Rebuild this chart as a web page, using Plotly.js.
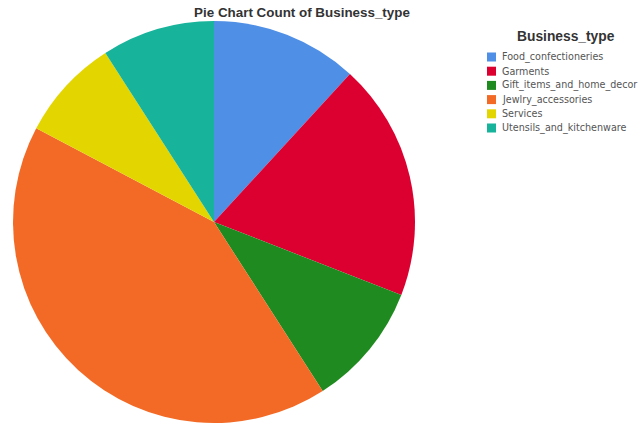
<!DOCTYPE html>
<html>
<head>
<meta charset="utf-8">
<script src="https://cdn.plot.ly/plotly-3.0.1.min.js"></script>
<style>html,body{margin:0;padding:0;background:#fff;}#chart{width:641px;height:425px;}</style>
</head>
<body>
<div id="chart"></div>
<script>
var categories = ["Food_confectioneries", "Garments", "Gift_items_and_home_decor", "Jewlry_accessories", "Services", "Utensils_and_kitchenware"];
var counts = [13, 21, 11, 46, 9, 10];
var colors = ["#4f8fe6", "#dc0030", "#1f8a1f", "#f26a25", "#e3d600", "#17b39a"];
var chartTitle = "Pie Chart Count of Business_type";
var legendTitle = "Business_type";

var W = 641, H = 425;
var trace = {
  type: "pie",
  labels: categories,
  values: counts,
  marker: {colors: colors, line: {width: 0}},
  sort: false,
  direction: "clockwise",
  rotation: 0,
  textinfo: "none",
  hoverinfo: "label+value+percent",
  domain: {x: [13 / W, 415 / W], y: [2 / H, 404 / H]},
  showlegend: false
};

var shapes = [];
var annotations = [];
var legX = 487, legY0 = 57, legStep = 14.2, sq = 9;
categories.forEach(function (c, i) {
  var yc = legY0 + i * legStep;
  shapes.push({
    type: "rect", xref: "paper", yref: "paper",
    x0: legX / W, x1: (legX + sq) / W,
    y0: 1 - (yc + sq / 2) / H, y1: 1 - (yc - sq / 2) / H,
    fillcolor: colors[i], line: {width: 0}
  });
  annotations.push({
    xref: "paper", yref: "paper", x: (legX + sq + 4) / W, y: 1 - yc / H,
    xanchor: "left", yanchor: "middle", showarrow: false,
    text: c, font: {family: "DejaVu Sans, Verdana, sans-serif", size: 9.6, color: "#555"}
  });
});
annotations.push({
  xref: "paper", yref: "paper", x: 566 / W, y: 1 - 37 / H,
  xanchor: "center", yanchor: "middle", showarrow: false,
  text: "<b>" + legendTitle + "</b>",
  font: {family: "Liberation Sans, Arial, sans-serif", size: 13.8, color: "#333"}
});

var layout = {
  width: W, height: H,
  margin: {l: 0, r: 0, t: 0, b: 0},
  paper_bgcolor: "#ffffff",
  plot_bgcolor: "#ffffff",
  title: {
    text: "<b>" + chartTitle + "</b>",
    x: 302 / W, xanchor: "center", y: 1 - 12 / H, yanchor: "middle",
    font: {family: "Liberation Sans, Arial, sans-serif", size: 13.4, color: "#333"}
  },
  showlegend: false,
  shapes: shapes,
  annotations: annotations
};

Plotly.newPlot("chart", [trace], layout, {displayModeBar: false, staticPlot: true});
</script>
</body>
</html>
